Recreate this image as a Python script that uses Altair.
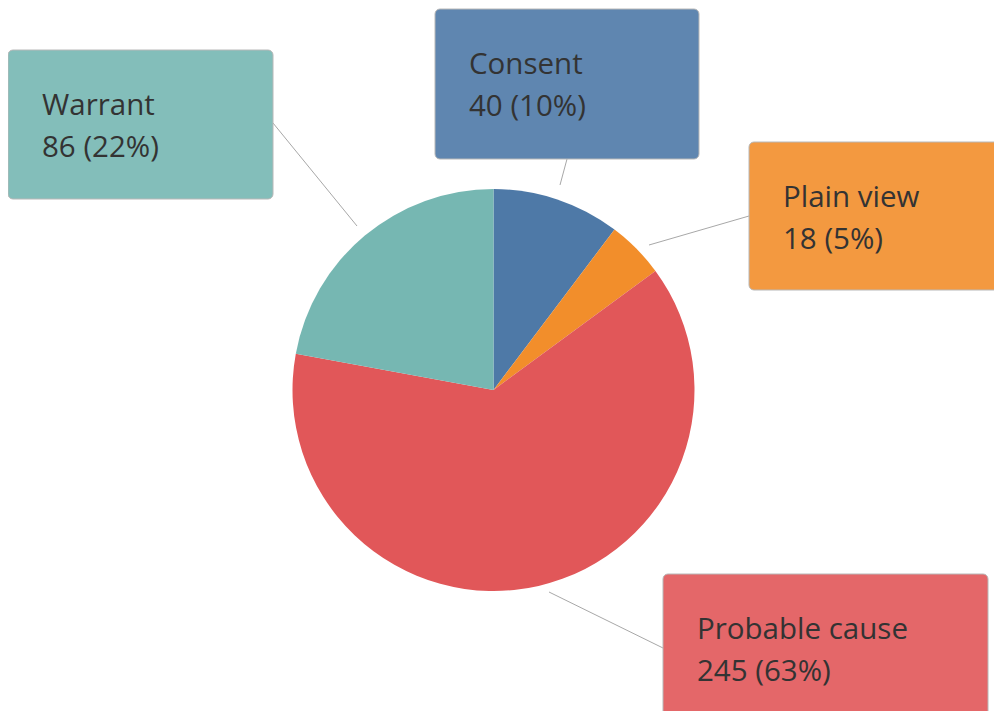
import altair as alt
import pandas as pd

# ---- data ----
categories = ["Consent", "Plain view", "Probable cause", "Warrant"]
counts = [40, 18, 245, 86]
colors = ["#4e79a7", "#f28e2b", "#e15759", "#76b7b2"]

total = sum(counts)
pct_labels = [f"{c} ({round(c / total * 100)}%)" for c in counts]

# ---- annotation layout (plot pixel coords) ----
box_x = [427, 741, 655, 0]
box_y = [1, 134, 566, 42]
box_w = [264, 269, 325, 265]
box_h = [150, 148, 149, 149]
lead_x = [559, 741, 655, 265]
lead_y = [151, 208, 640, 115]
lead_x2 = [552, 641, 541, 349]
lead_y2 = [177, 237, 584, 218]

pie_df = pd.DataFrame({"cat": categories, "n": counts, "order": list(range(len(categories)))})
box_df = pd.DataFrame({
    "cat": categories,
    "x": box_x, "y": box_y,
    "x2": [a + b for a, b in zip(box_x, box_w)],
    "y2": [a + b for a, b in zip(box_y, box_h)],
    "name": categories,
    "val": pct_labels,
    "tx": [a + 34 for a in box_x],
    "ty1": [a + 65 for a in box_y],
    "ty2": [a + 107 for a in box_y],
    "lx": lead_x, "ly": lead_y, "lx2": lead_x2, "ly2": lead_y2,
})

cscale = alt.Scale(domain=categories, range=colors)

pie = alt.Chart(pie_df).mark_arc(outerRadius=201).encode(
    theta=alt.Theta("n:Q", stack=True),
    order=alt.Order("order:Q"),
    color=alt.Color("cat:N", scale=cscale, legend=None),
    x=alt.value(485.5),
    y=alt.value(382),
)

leads = alt.Chart(box_df).mark_rule(color="#a8a8a8", strokeWidth=1).encode(
    x=alt.X("lx:Q", scale=None), y=alt.Y("ly:Q", scale=None),
    x2="lx2:Q", y2="ly2:Q",
)

boxes = alt.Chart(box_df).mark_rect(
    cornerRadius=5, stroke="#b8b8b8", strokeWidth=1, fillOpacity=0.9
).encode(
    x=alt.X("x:Q", scale=None), x2="x2:Q",
    y=alt.Y("y:Q", scale=None), y2="y2:Q",
    color=alt.Color("cat:N", scale=cscale, legend=None),
)

txt_style = dict(font="Open Sans", fontSize=29.5, color="#333333", align="left", baseline="alphabetic")
t1 = alt.Chart(box_df).mark_text(**txt_style).encode(
    x=alt.X("tx:Q", scale=None), y=alt.Y("ty1:Q", scale=None), text="name:N"
)
t2 = alt.Chart(box_df).mark_text(**txt_style).encode(
    x=alt.X("tx:Q", scale=None), y=alt.Y("ty2:Q", scale=None), text="val:N"
)

chart = alt.layer(pie, leads, boxes, t1, t2).properties(
    width=986, height=703, autosize=alt.AutoSizeParams(type="none"), padding=0
).configure_view(stroke=None)

chart.save("out.html", embed_options={"renderer": "svg", "actions": False})
